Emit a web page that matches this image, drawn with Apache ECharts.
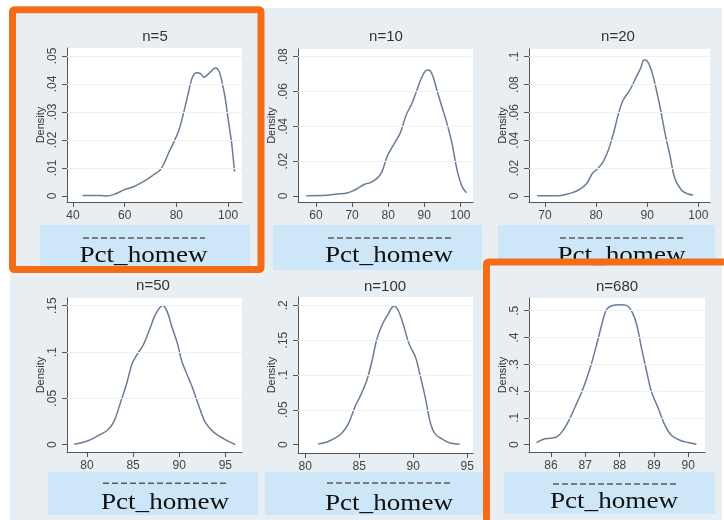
<!DOCTYPE html>
<html>
<head>
<meta charset="utf-8">
<style>
  html, body { margin: 0; padding: 0; background: #ffffff; }
  #c { width: 724px; height: 520px; }
</style>
<script src="https://cdn.jsdelivr.net/npm/echarts@6/dist/echarts.min.js"></script>
</head>
<body>
<div id="c"></div>
<script>
// Kernel density of Pct_homew, sample means for different sample sizes n
const panelTitles = ['n=5', 'n=10', 'n=20', 'n=50', 'n=100', 'n=680'];
const xAxisTitle = 'Pct_homew';
const yAxisTitle = 'Density';

const n5Pct     = [43.7, 50.5, 53, 56.3, 59.5, 63.4, 67.2, 71.1, 73.7, 75.6, 76.9, 78.8, 80.8, 82.1, 83.4, 84.6, 86.3, 87.9, 89.2, 90.7, 92.4, 93.7, 95, 96.3, 97.5, 98.8, 100.1, 101.4, 102.5];
const n5Density = [0.0002, 0.0002, 0, 0.0007, 0.0021, 0.0033, 0.0051, 0.0075, 0.0093, 0.0123, 0.0152, 0.0188, 0.023, 0.0271, 0.0319, 0.0367, 0.0426, 0.044, 0.0438, 0.0424, 0.0436, 0.0448, 0.0457, 0.045, 0.0414, 0.0355, 0.0271, 0.0188, 0.0087];

const n10Pct     = [57.3, 63, 65.8, 68.6, 70.4, 72.3, 73.7, 75.1, 76.9, 78.3, 79.7, 82, 83.4, 85, 86.6, 88, 89.2, 90.8, 91.7, 92.6, 93.5, 94.9, 96.3, 97.7, 99.1, 100.5, 101.7];
const n10Density = [0.0002, 0.0004, 0.0011, 0.0017, 0.0031, 0.0054, 0.0069, 0.0077, 0.0101, 0.014, 0.0226, 0.0312, 0.0364, 0.0465, 0.0532, 0.0609, 0.0676, 0.0724, 0.0718, 0.0676, 0.0609, 0.0513, 0.0417, 0.0303, 0.0149, 0.0054, 0.0019];

const n20Pct     = [68.5, 72.6, 74.2, 75.5, 76.8, 78.2, 79.3, 80.4, 81.4, 82.4, 83.4, 84.4, 85.3, 86.6, 87.9, 88.7, 89.4, 89.9, 90.7, 91.5, 92.5, 93.5, 94.5, 95.4, 96.7, 98, 99];
const n20Density = [0.0002, 0.0002, 0.0012, 0.0026, 0.0048, 0.0091, 0.0163, 0.0199, 0.0246, 0.033, 0.045, 0.0593, 0.0689, 0.0761, 0.0857, 0.0916, 0.0976, 0.0972, 0.0916, 0.0809, 0.0641, 0.045, 0.0282, 0.0127, 0.0043, 0.0014, 0.0007];

const n50Pct     = [78.6, 79.5, 80.4, 81.3, 82.2, 82.9, 83.6, 84.3, 84.9, 85.4, 86.1, 86.9, 87.4, 88.2, 88.7, 89.2, 89.8, 90.3, 90.8, 91.4, 92.1, 92.8, 93.7, 94.8, 96.1];
const n50Density = [0.0004, 0.0022, 0.0054, 0.0101, 0.0155, 0.0245, 0.0444, 0.066, 0.0877, 0.0967, 0.1075, 0.1273, 0.14, 0.1501, 0.1436, 0.1273, 0.1093, 0.0895, 0.0768, 0.0624, 0.0426, 0.0245, 0.0137, 0.0065, 0];

const n100Pct     = [81.2, 82, 82.8, 83.4, 84, 84.6, 85.2, 85.7, 86.2, 86.6, 87.1, 87.7, 88.2, 88.6, 89.1, 89.6, 90.2, 90.6, 91.1, 91.6, 92, 92.6, 93.4, 94.3];
const n100Density = [0.001, 0.0038, 0.0096, 0.0168, 0.0302, 0.0541, 0.0732, 0.0924, 0.1211, 0.1498, 0.1713, 0.1881, 0.1991, 0.1929, 0.1713, 0.145, 0.1259, 0.1019, 0.0684, 0.0302, 0.0158, 0.0086, 0.0024, 0.0005];

const n680Pct     = [85.58, 85.78, 85.97, 86.17, 86.36, 86.55, 86.75, 86.94, 87.14, 87.33, 87.48, 87.62, 87.77, 88.01, 88.2, 88.38, 88.5, 88.64, 88.79, 88.93, 89.13, 89.32, 89.51, 89.76, 90, 90.24];
const n680Density = [0.0075, 0.02, 0.0238, 0.0288, 0.0538, 0.0975, 0.1538, 0.21, 0.285, 0.3726, 0.4476, 0.5039, 0.5189, 0.5226, 0.52, 0.4914, 0.4476, 0.3601, 0.2726, 0.1975, 0.135, 0.0725, 0.035, 0.0163, 0.0075, 0.0013];

// Tick values per panel
const n5XTicks = [40, 60, 80, 100];            const n5YTicks = [0, 0.01, 0.02, 0.03, 0.04, 0.05];
const n10XTicks = [60, 70, 80, 90, 100];       const n10YTicks = [0, 0.02, 0.04, 0.06, 0.08];
const n20XTicks = [70, 80, 90, 100];           const n20YTicks = [0, 0.02, 0.04, 0.06, 0.08, 0.1];
const n50XTicks = [80, 85, 90, 95];            const n50YTicks = [0, 0.05, 0.1, 0.15];
const n100XTicks = [80, 85, 90, 95];           const n100YTicks = [0, 0.05, 0.1, 0.15, 0.2];
const n680XTicks = [86, 87, 88, 89, 90];       const n680YTicks = [0, 0.1, 0.2, 0.3, 0.4, 0.5];

// Panel layout: plot area, axis ranges, title, caption band, dashed rule, caption
const panels = [
  { pct: n5Pct, dens: n5Density, xt: n5XTicks, yt: n5YTicks,
    grid: { left: 67, top: 48, width: 175, height: 154 }, xr: [37.68, 105.4], yr: [-0.00214, 0.05286],
    titleAt: [155, 37], band: [40, 225, 210, 42], rule: [83, 205, 238], cap: [143.5, 256] },
  { pct: n10Pct, dens: n10Density, xt: n10XTicks, yt: n10YTicks,
    grid: { left: 298, top: 49, width: 175, height: 153 }, xr: [55.01, 103.52], yr: [-0.00345, 0.08442],
    titleAt: [386, 37], band: [273, 225, 209, 45], rule: [328, 452, 238], cap: [389, 255.5] },
  { pct: n20Pct, dens: n20Density, xt: n20XTicks, yt: n20YTicks,
    grid: { left: 529, top: 49, width: 181, height: 153 }, xr: [66.87, 102.29], yr: [-0.0043, 0.10553],
    titleAt: [618, 37], band: [498, 225, 217, 40], rule: [560, 683, 238], cap: [621.5, 255.5] },
  { pct: n50Pct, dens: n50Density, xt: n50XTicks, yt: n50YTicks,
    grid: { left: 67, top: 298, width: 175, height: 154 }, xr: [77.83, 96.81], yr: [-0.008, 0.1583],
    titleAt: [153, 286], band: [48, 472, 210, 43], rule: [103, 228, 483.3], cap: [165, 502.5] },
  { pct: n100Pct, dens: n100Density, xt: n100XTicks, yt: n100YTicks,
    grid: { left: 298, top: 297, width: 175, height: 156 }, xr: [79.33, 95.53], yr: [-0.01206, 0.2119],
    titleAt: [385, 287], band: [265, 472, 218, 43], rule: [327, 452, 483], cap: [389, 503.5] },
  { pct: n680Pct, dens: n680Density, xt: n680XTicks, yt: n680YTicks,
    grid: { left: 529, top: 298, width: 176, height: 154 }, xr: [85.36, 90.49], yr: [-0.0278, 0.5476],
    titleAt: [617, 287], band: [504, 472, 211, 42], rule: [553, 677, 484], cap: [614, 501.5] }
];

const AXIS = '#555';
const LABEL = '#444';
const LINE = '#6a7c95';
const ORANGE = '#f36c17';

function stataNum(v) {
  if (v === 0) return '0';
  return String(+v.toFixed(4)).replace(/^0\./, '.');
}

const grids = [], xAxes = [], yAxes = [], series = [];
const graphics = [
  { type: 'rect', z: -10, shape: { x: 10, y: 8, width: 712, height: 512 }, style: { fill: '#e8eef1' } }
];

panels.forEach((p, i) => {
  grids.push(Object.assign({ show: true, backgroundColor: '#ffffff', borderWidth: 0 }, p.grid));
  xAxes.push({
    type: 'value', gridIndex: i, min: p.xr[0], max: p.xr[1],
    axisLine: { show: true, onZero: false, lineStyle: { color: AXIS, width: 1 } },
    axisTick: { show: true, customValues: p.xt, length: 5, lineStyle: { color: AXIS } },
    axisLabel: { customValues: p.xt, color: LABEL, fontSize: 12, margin: 8, fontFamily: 'Liberation Sans, Arial, sans-serif' },
    splitLine: { show: false }
  });
  yAxes.push({
    type: 'value', gridIndex: i, min: p.yr[0], max: p.yr[1],
    name: yAxisTitle, nameLocation: 'middle', nameGap: 17, nameRotate: 90,
    nameTextStyle: { color: '#333', fontSize: 11, fontFamily: 'Liberation Sans, Arial, sans-serif' },
    axisLine: { show: true, onZero: false, lineStyle: { color: AXIS, width: 1 } },
    axisTick: { show: true, customValues: p.yt, length: 5, lineStyle: { color: AXIS } },
    axisLabel: { customValues: p.yt, rotate: 90, color: LABEL, fontSize: 12, margin: 8,
                 fontFamily: 'Liberation Sans, Arial, sans-serif', formatter: stataNum },
    splitLine: { show: false }
  });
  series.push({
    type: 'line', xAxisIndex: i, yAxisIndex: i,
    data: p.pct.map((x, k) => [x, p.dens[k]]),
    smooth: 0.35, showSymbol: false, symbol: 'none',
    lineStyle: { color: LINE, width: 1.5 },
    animation: false,
    markLine: {
      silent: true, symbol: ['none', 'none'], animation: false,
      label: { show: false },
      lineStyle: { color: '#edf1f4', type: 'solid', width: 1 },
      data: p.yt.filter(v => v !== 0).map(v => ({ yAxis: v }))
    }
  });

  graphics.push({
    type: 'text', x: p.titleAt[0], y: p.titleAt[1], z: 5,
    style: { text: panelTitles[i], fill: '#333', font: '15px "Liberation Sans", Arial, sans-serif',
             textAlign: 'center', textVerticalAlign: 'middle' }
  });
  graphics.push({
    type: 'rect', z: 1, shape: { x: p.band[0], y: p.band[1], width: p.band[2], height: p.band[3] },
    style: { fill: '#cde7f8' }
  });
  graphics.push({
    type: 'line', z: 2, shape: { x1: p.rule[0], y1: p.rule[2], x2: p.rule[1], y2: p.rule[2] },
    style: { stroke: '#5a5a5a', lineWidth: 1.5, lineDash: [6, 3] }
  });
  graphics.push({
    type: 'text', x: p.cap[0], y: p.cap[1], z: 3, scaleX: 1.18,
    style: { text: xAxisTitle, fill: '#111', font: '23px "Liberation Serif", "Times New Roman", serif',
             textAlign: 'center', textVerticalAlign: 'middle' }
  });
});

// Highlight frames around the n=5 and n=680 panels
graphics.push({
  type: 'rect', z: 100, shape: { x: 12.5, y: 9.7, width: 248.5, height: 259.8, r: 2 },
  style: { fill: 'none', stroke: ORANGE, lineWidth: 7 }
});
graphics.push({
  type: 'rect', z: 100, shape: { x: 486.5, y: 262, width: 300, height: 300, r: 2 },
  style: { fill: 'none', stroke: ORANGE, lineWidth: 7 }
});

const chart = echarts.init(document.getElementById('c'), null, { renderer: 'canvas' });
chart.setOption({
  backgroundColor: '#ffffff',
  animation: false,
  grid: grids,
  xAxis: xAxes,
  yAxis: yAxes,
  series: series,
  graphic: graphics
});
</script>
</body>
</html>
